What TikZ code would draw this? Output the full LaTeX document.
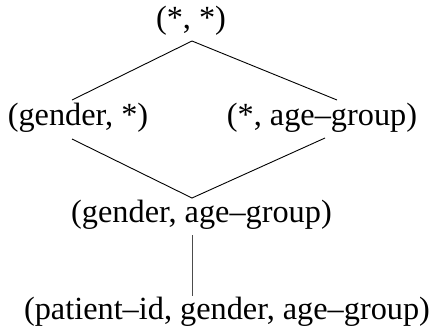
\documentclass[tikz,border=0pt]{standalone}
\usepackage{fontspec}
\setmainfont{Liberation Serif}
\begin{document}
\begin{tikzpicture}[x=1pt,y=-1pt,
  lbl/.style={anchor=base,inner sep=0pt,font=\fontsize{32.3}{38}\selectfont},
  edge/.style={line width=0.9pt,black}]
\useasboundingbox (0,0) rectangle (435,330);
\node[lbl] (top) at (191,28) {(*, *)};
\node[lbl] (gs)  at (78,125) {(gender, *)};
\node[lbl] (sa)  at (322,125) {(*, age--group)};
\node[lbl] (ga)  at (201.5,222) {(gender, age--group)};
\node[lbl] (pga) at (227,319) {(patient--id, gender, age--group)};
\coordinate (topB) at (192,41);
\coordinate (gsT) at (72,100);
\coordinate (saT) at (337,100);
\coordinate (gsB) at (72,139);
\coordinate (saB) at (325,138);
\coordinate (gaT) at (192,198);
\coordinate (gaB) at (192,235);
\coordinate (pgaT) at (192,296);
\draw[edge] (gsT) -- (topB) -- (saT);
\draw[edge] (gsB) -- (gaT) -- (saB);
\draw[edge,black!70] (gaB) -- (pgaT);
\end{tikzpicture}
\end{document}
